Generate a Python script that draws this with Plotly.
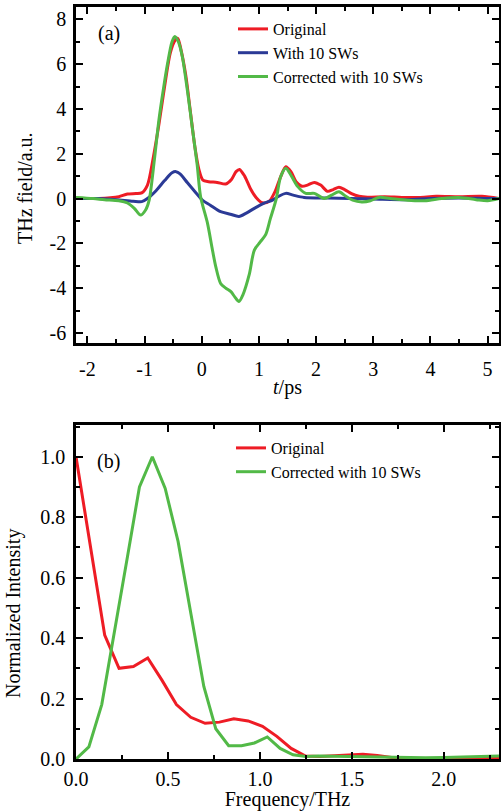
import plotly.graph_objects as go

# ---------------- Panel (a): time domain ----------------
t_orig = [-2.2, -1.8, -1.6, -1.45, -1.3, -1.15, -1.05, -0.95, -0.85, -0.75, -0.65, -0.55, -0.47, -0.42,
          -0.36, -0.28, -0.2, -0.12, -0.05, 0.02, 0.12, 0.27, 0.42, 0.52, 0.6, 0.66, 0.75, 0.85, 0.95,
          1.06, 1.18, 1.28, 1.38, 1.47, 1.56, 1.65, 1.75, 1.85, 1.97, 2.08, 2.2, 2.3, 2.4, 2.5, 2.62,
          2.75, 2.9, 3.2, 3.5, 3.8, 4.1, 4.5, 4.9, 5.2]
e_orig = [0.0, 0.0, 0.03, 0.08, 0.2, 0.22, 0.25, 0.6, 1.8, 3.3, 5.0, 6.5, 7.05, 7.15,
          6.6, 5.5, 3.9, 2.3, 1.3, 0.82, 0.75, 0.72, 0.65, 0.85, 1.2, 1.3, 1.0, 0.45, 0.05,
          -0.19, -0.12, 0.3, 0.97, 1.42, 1.2, 0.75, 0.55, 0.6, 0.72, 0.6, 0.32, 0.4, 0.5, 0.4, 0.22,
          0.1, 0.06, 0.08, 0.05, 0.05, 0.1, 0.08, 0.1, 0.0]

t_sw = [-2.2, -1.8, -1.5, -1.2, -1.05, -0.95, -0.8, -0.65, -0.52, -0.45, -0.38, -0.25, -0.1, 0.01,
        0.15, 0.33, 0.5, 0.65, 0.78, 0.92, 1.09, 1.24, 1.35, 1.47, 1.6, 1.79, 2.2, 2.6, 3.0, 3.6,
        4.0, 4.5, 5.0, 5.2]
e_sw = [0.0, 0.0, -0.05, -0.12, -0.14, 0.0, 0.35, 0.8, 1.15, 1.2, 1.1, 0.7, 0.25, -0.07,
        -0.3, -0.59, -0.7, -0.8, -0.65, -0.44, -0.21, -0.07, 0.1, 0.23, 0.15, 0.05, 0.02, 0.0, -0.02, -0.05,
        0.0, 0.02, 0.0, 0.0]

t_corr = [-2.2, -1.9, -1.7, -1.45, -1.3, -1.18, -1.07, -0.98, -0.92, -0.83, -0.75, -0.67, -0.6, -0.52,
          -0.47, -0.41, -0.34, -0.25, -0.16, -0.08, -0.02, 0.1, 0.18, 0.245, 0.33, 0.42, 0.51, 0.58,
          0.65, 0.72, 0.83, 0.92, 1.02, 1.12, 1.2, 1.3, 1.38, 1.47, 1.57, 1.68, 1.82, 1.97, 2.14,
          2.27, 2.4, 2.52, 2.64, 2.8, 2.95, 3.1, 3.3, 3.6, 3.9, 4.2, 4.5, 4.8, 5.0, 5.2]
e_corr = [0.05, 0.0, -0.05, -0.1, -0.2, -0.44, -0.74, -0.5, -0.07, 1.7, 3.5, 4.9, 6.0, 7.0,
          7.23, 7.0, 6.33, 4.8, 3.06, 1.5, 0.08, -1.1, -2.2, -3.04, -3.79, -4.0, -4.16, -4.4,
          -4.6, -4.3, -3.4, -2.3, -1.95, -1.6, -0.9, -0.05, 0.97, 1.35, 1.0, 0.53, 0.23, 0.23, 0.0,
          0.15, 0.3, 0.1, -0.07, -0.15, -0.1, 0.05, 0.0, -0.08, -0.1, 0.0, 0.05, -0.05, -0.1, 0.0]

# ---------------- Panel (b): spectra ----------------
f_orig = [0.0, 0.078, 0.156, 0.234, 0.312, 0.39, 0.468, 0.546, 0.624, 0.702, 0.78, 0.858, 0.936,
          1.014, 1.092, 1.17, 1.248, 1.326, 1.404, 1.482, 1.56, 1.638, 1.716, 1.794, 1.872, 1.95,
          2.028, 2.106, 2.184, 2.262, 2.34]
s_orig = [1.0, 0.71, 0.41, 0.30, 0.306, 0.334, 0.26, 0.18, 0.138, 0.118, 0.122, 0.133, 0.126,
          0.108, 0.075, 0.035, 0.01, 0.008, 0.01, 0.014, 0.016, 0.012, 0.005, 0.002, 0.0, 0.0,
          0.0, 0.002, 0.003, 0.003, 0.002]

f_corr = [0.0, 0.07, 0.14, 0.21, 0.28, 0.345, 0.415, 0.485, 0.555, 0.625, 0.695, 0.76, 0.83, 0.90,
          0.97, 1.04, 1.11, 1.18, 1.25, 1.32, 1.4, 1.5, 1.6, 1.7, 1.8, 1.9, 2.0, 2.1, 2.2, 2.3]
s_corr = [0.0, 0.04, 0.18, 0.42, 0.67, 0.90, 1.0, 0.895, 0.72, 0.48, 0.24, 0.10, 0.044, 0.044,
          0.053, 0.073, 0.035, 0.014, 0.008, 0.01, 0.009, 0.007, 0.006, 0.005, 0.004, 0.004, 0.005,
          0.007, 0.01, 0.01]

# tick labels
xa_ticks = [-2, -1, 0, 1, 2, 3, 4, 5]
xa_text = ["-2", "-1", "0", "1", "2", "3", "4", "5"]
ya_ticks = [-6, -4, -2, 0, 2, 4, 6, 8]
ya_text = ["-6", "-4", "-2", "0", "2", "4", "6", "8"]
xb_ticks = [0.0, 0.5, 1.0, 1.5, 2.0]
xb_text = ["0.0", "0.5", "1.0", "1.5", "2.0"]
yb_ticks = [0.0, 0.2, 0.4, 0.6, 0.8, 1.0]
yb_text = ["0.0", "0.2", "0.4", "0.6", "0.8", "1.0"]

RED = "#ee1c25"
BLUE = "#2b3a96"
GREEN = "#52b947"
FONT = "Liberation Serif"

fig = go.Figure()
fig.add_trace(go.Scatter(x=t_orig, y=e_orig, mode="lines", name="Original",
                         line=dict(color=RED, width=3, shape="spline", smoothing=0.8),
                         xaxis="x", yaxis="y", legend="legend"))
fig.add_trace(go.Scatter(x=t_sw, y=e_sw, mode="lines", name="With 10 SWs",
                         line=dict(color=BLUE, width=3, shape="spline", smoothing=0.8),
                         xaxis="x", yaxis="y", legend="legend"))
fig.add_trace(go.Scatter(x=t_corr, y=e_corr, mode="lines", name="Corrected with 10 SWs",
                         line=dict(color=GREEN, width=3, shape="spline", smoothing=0.8),
                         xaxis="x", yaxis="y", legend="legend"))
fig.add_trace(go.Scatter(x=f_orig, y=s_orig, mode="lines", name="Original",
                         line=dict(color=RED, width=3),
                         xaxis="x2", yaxis="y2", legend="legend2"))
fig.add_trace(go.Scatter(x=f_corr, y=s_corr, mode="lines", name="Corrected with 10 SWs",
                         line=dict(color=GREEN, width=3),
                         xaxis="x2", yaxis="y2", legend="legend2"))

W, H = 501, 811
xdom = [76 / W, 499 / W]
ydom_a = [1 - 343 / H, 1 - 7 / H]
ydom_b = [1 - 759 / H, 1 - 425 / H]

axis_common = dict(showline=True, linecolor="black", linewidth=2.5, mirror="allticks",
                   ticks="inside", ticklen=7, tickwidth=2, tickcolor="black",
                   showgrid=False, zeroline=False, tickmode="array", automargin=False,
                   tickfont=dict(family=FONT, size=20, color="black"))

fig.update_layout(
    template="none",
    width=W, height=H, margin=dict(l=0, r=0, t=0, b=0),
    paper_bgcolor="white", plot_bgcolor="white",
    font=dict(family=FONT, color="black"),
    xaxis=dict(axis_common, domain=xdom, anchor="y", range=[-2.2, 5.2],
               tickvals=xa_ticks, ticktext=xa_text, ticklabelstandoff=6,
               minor=dict(ticks="inside", ticklen=4, tickwidth=1.5, tickcolor="black", dtick=0.5, tick0=0),
               title=dict(text="<i>t</i>/ps", font=dict(family=FONT, size=20), standoff=2)),
    yaxis=dict(axis_common, domain=ydom_a, anchor="x", range=[-6.45, 8.55],
               tickvals=ya_ticks, ticktext=ya_text, ticklabelstandoff=3,
               minor=dict(ticks="inside", ticklen=4, tickwidth=1.5, tickcolor="black", dtick=1, tick0=0)),
    xaxis2=dict(axis_common, domain=xdom, anchor="y2", range=[0, 2.3],
                tickvals=xb_ticks, ticktext=xb_text, ticklabelstandoff=0,
                minor=dict(ticks="inside", ticklen=4, tickwidth=1.5, tickcolor="black", dtick=0.25, tick0=0),
                title=dict(text="Frequency/THz", font=dict(family=FONT, size=20), standoff=4)),
    yaxis2=dict(axis_common, domain=ydom_b, anchor="x2", range=[0, 1.105],
                tickvals=yb_ticks, ticktext=yb_text, ticklabelstandoff=4,
                minor=dict(ticks="inside", ticklen=4, tickwidth=1.5, tickcolor="black", dtick=0.1, tick0=0)),
    legend=dict(x=233 / W, y=1 - 12 / H, xanchor="left", yanchor="top",
                bgcolor="rgba(0,0,0,0)", font=dict(family=FONT, size=16, color="black"),
                tracegroupgap=0),
    legend2=dict(x=231 / W, y=1 - 431 / H, xanchor="left", yanchor="top",
                 bgcolor="rgba(0,0,0,0)", font=dict(family=FONT, size=16, color="black"),
                 tracegroupgap=0),
    showlegend=True,
)

ann_font = dict(family=FONT, size=20, color="black")
fig.add_annotation(text="(a)", x=108.5 / W, y=1 - 33 / H, xref="paper", yref="paper",
                   xanchor="center", yanchor="middle", showarrow=False, font=ann_font)
fig.add_annotation(text="(b)", x=108.5 / W, y=1 - 462 / H, xref="paper", yref="paper",
                   xanchor="center", yanchor="middle", showarrow=False, font=ann_font)
fig.add_annotation(text="THz field/a.u.", x=25 / W, y=1 - 188 / H, xref="paper", yref="paper",
                   xanchor="center", yanchor="middle", textangle=-90, showarrow=False, font=ann_font)
fig.add_annotation(text="Normalized Intensity", x=13 / W, y=1 - 614 / H, xref="paper", yref="paper",
                   xanchor="center", yanchor="middle", textangle=-90, showarrow=False, font=ann_font)

fig.write_html("out.html")
